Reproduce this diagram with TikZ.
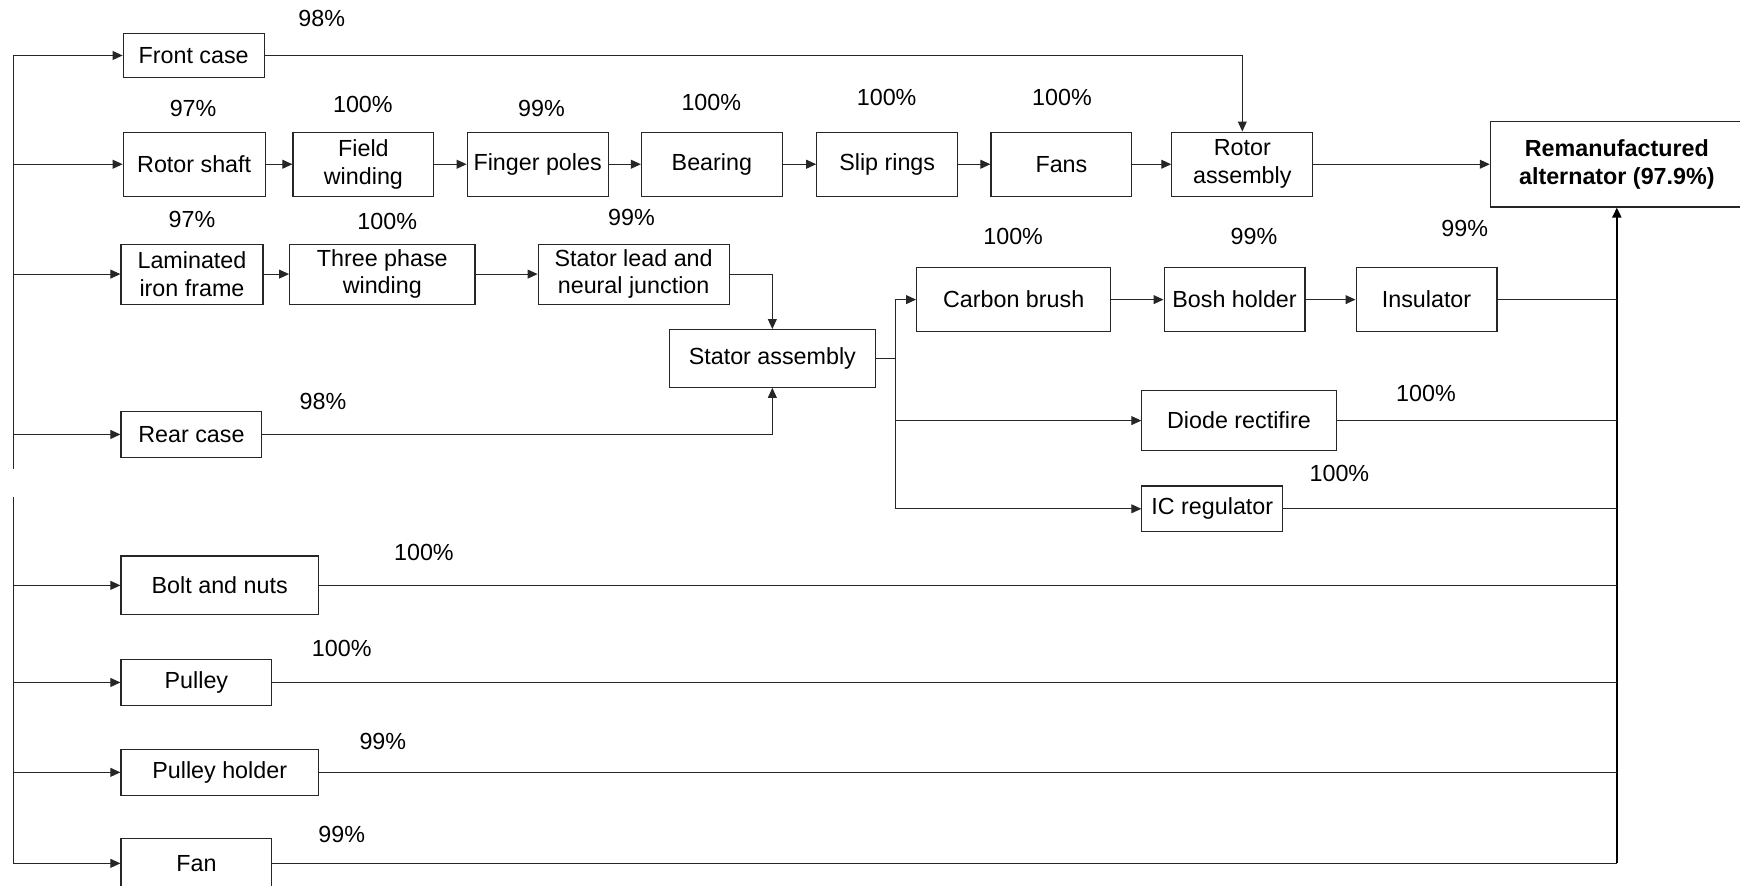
\documentclass[tikz,border=0pt]{standalone}
\usepackage{fontspec}
\setmainfont{Liberation Sans}
\usetikzlibrary{arrows.meta}
\begin{document}
\begin{tikzpicture}[x=1pt,y=-1pt,
  blk/.style={draw=black!85, line width=1pt, inner sep=0pt, align=center,
    font=\fontsize{21}{25}\selectfont},
  pct/.style={inner sep=0pt, font=\fontsize{21}{25}\selectfont},
  con/.style={draw=black!85, line width=1pt},
  arr/.style={con, -{Triangle[length=9pt,width=8pt]}}]
\useasboundingbox (0,0) rectangle (1568,798);
% boxes
\node[blk, minimum width=127, minimum height=40] (fc) at (174.5,50) {Front case};
\node[blk, minimum width=128, minimum height=58] (rs) at (175,148) {Rotor shaft};
\node[blk, minimum width=127, minimum height=58] (fw) at (327.5,148) {Field\\winding};
\node[blk, minimum width=127, minimum height=58] (fp) at (484.5,148) {Finger poles};
\node[blk, minimum width=127, minimum height=58] (br) at (641.5,148) {Bearing};
\node[blk, minimum width=127, minimum height=58] (sr) at (799.5,148) {Slip rings};
\node[blk, minimum width=127, minimum height=58] (fa) at (956.5,148) {Fans};
\node[blk, minimum width=127, minimum height=58] (ra) at (1119.5,148) {Rotor\\assembly};
\node[blk, minimum width=228, minimum height=77, font=\fontsize{21}{25}\selectfont\bfseries] (rm) at (1457,148) {Remanufactured\\alternator (97.9\%)};
\node[blk, minimum width=128, minimum height=54] (lf) at (173,247) {Laminated\\iron frame};
\node[blk, minimum width=167, minimum height=54] (tp) at (344.5,247) {Three phase\\winding};
\node[blk, minimum width=172, minimum height=54] (sl) at (571,247) {Stator lead and\\neural junction};
\node[blk, minimum width=186, minimum height=52] (sa) at (696,323) {Stator assembly};
\node[blk, minimum width=127, minimum height=41] (rc) at (172.5,391.5) {Rear case};
\node[blk, minimum width=175, minimum height=58] (cb) at (913.5,270) {Carbon brush};
\node[blk, minimum width=127, minimum height=58] (bh) at (1112.5,270) {Bosh holder};
\node[blk, minimum width=127, minimum height=58] (ins) at (1285.5,270) {Insulator};
\node[blk, minimum width=175, minimum height=54] (dr) at (1116.5,379) {Diode rectifire};
\node[blk, minimum width=127, minimum height=41] (ic) at (1092.5,458.5) {IC regulator};
\node[blk, minimum width=178, minimum height=53] (bn) at (198,527.5) {Bolt and nuts};
\node[blk, minimum width=136, minimum height=42] (pu) at (177,615) {Pulley};
\node[blk, minimum width=178, minimum height=42] (ph) at (198,696) {Pulley holder};
\node[blk, minimum width=136, minimum height=44] (fn) at (177,778) {Fan};
% percentages
\node[pct] (p1) at (290,17) {98\%};
\node[pct] (p2) at (174,98) {97\%};
\node[pct] (p3) at (327,94) {100\%};
\node[pct] (p4) at (488,98) {99\%};
\node[pct] (p5) at (641,92) {100\%};
\node[pct] (p6) at (799,88) {100\%};
\node[pct] (p7) at (957,88) {100\%};
\node[pct] (p8) at (173,198) {97\%};
\node[pct] (p9) at (349,200) {100\%};
\node[pct] (p10) at (569,196) {99\%};
\node[pct] (p11) at (291,362) {98\%};
\node[pct] (p12) at (913,213) {100\%};
\node[pct] (p13) at (1130,213) {99\%};
\node[pct] (p14) at (1320,206) {99\%};
\node[pct] (p15) at (1285,355) {100\%};
\node[pct] (p16) at (1207,427) {100\%};
\node[pct] (p17) at (382,498) {100\%};
\node[pct] (p18) at (308,584) {100\%};
\node[pct] (p19) at (345,668) {99\%};
\node[pct] (p20) at (308,752) {99\%};
% left trunk
\coordinate (Ltop) at (12,50);
\coordinate (Lgapa) at (12,423);
\coordinate (Lgapb) at (12,448);
\coordinate (Lbot) at (12,778);
\draw[con] (Ltop) -- (Lgapa);
\draw[con] (Lgapb) -- (Lbot);
\foreach \n in {fc,rs,lf,rc,bn,pu,ph,fn}{
  \draw[arr] (\n.west -| Ltop) -- (\n.west);
}
% rotor row
\draw[arr] (fc.east) -| (ra.north);
\draw[arr] (rs) -- (fw);
\draw[arr] (fw) -- (fp);
\draw[arr] (fp) -- (br);
\draw[arr] (br) -- (sr);
\draw[arr] (sr) -- (fa);
\draw[arr] (fa) -- (ra);
\draw[arr] (ra) -- (rm);
% stator
\draw[arr] (lf) -- (tp);
\draw[arr] (tp) -- (sl);
\draw[arr] (sl.east) -| (sa.north);
\draw[arr] (rc.east) -| (sa.south);
\coordinate (J) at (807,323);
\draw[con] (sa.east) -- (J);
\draw[arr] (J) |- (cb.west);
\draw[arr] (J) |- (dr.west);
\draw[arr] (J) |- (ic.west);
\draw[arr] (cb) -- (bh);
\draw[arr] (bh) -- (ins);
% right trunk
\coordinate (Rb) at (1457,778);
\draw[draw=black, line width=1.8pt, -{Triangle[length=9pt,width=8pt]}] (Rb) -- (rm.south);
\foreach \n in {ins,dr,ic,bn,pu,ph,fn}{
  \draw[con] (\n.east) -- (\n.east -| Rb);
}
\end{tikzpicture}
\end{document}
